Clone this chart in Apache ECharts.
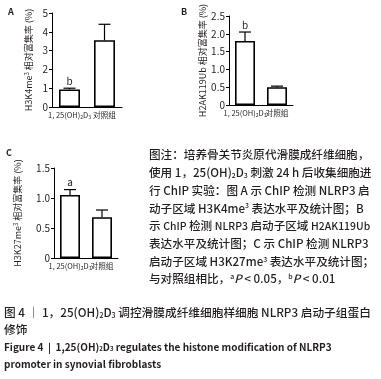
<!DOCTYPE html>
<html>
<head>
<meta charset="utf-8">
<script src="https://cdn.jsdelivr.net/npm/echarts@6/dist/echarts.min.js"></script>
<style>
  html, body { margin: 0; padding: 0; background: #fff; }
  #main { width: 381px; height: 379px; }
</style>
</head>
<body>
<div id="main"></div>
<script>
// groups and values
const groups = ['{g|1, 25(OH)}{s|2}{g|D}{s|3}', '对照组'];

const h3k4Mean = [0.93, 3.55];
const h3k4Err = [0.07, 0.85];
const h3k4Sig = ['b', ''];

const h2akMean = [1.8, 0.5];
const h2akErr = [0.25, 0.03];
const h2akSig = ['b', ''];

const h3k27Mean = [1.05, 0.68];
const h3k27Err = [0.09, 0.12];
const h3k27Sig = ['a', ''];

const yMaxA = 5, yStepA = 1;
const yMaxB = 2.5, yStepB = 0.5;
const yMaxC = 1.5, yStepC = 0.5;

const FONT = 'Noto Sans CJK SC';
const INK = '#231f20';

const richSmall = {
    g: {fontSize: 7.5, fontFamily: FONT, color: INK},
    s: {fontSize: 5, fontFamily: FONT, color: INK, verticalAlign: 'bottom', padding: [4, 0, 0, 0]},
    p: {fontSize: 6, fontFamily: FONT, color: INK, verticalAlign: 'top', padding: [0, 0, 4, 0]}
};

function xAx(gi) {
    return {
        type: 'category', gridIndex: gi, data: groups,
        axisLine: {lineStyle: {color: '#000', width: 1}},
        axisTick: {show: false},
        axisLabel: {interval: 0, fontSize: 7.7, color: INK, margin: 4, fontFamily: FONT, rich: richSmall}
    };
}

function yAx(gi, max, step, name, gap) {
    return {
        type: 'value', gridIndex: gi, min: 0, max: max, interval: step,
        name: name, nameLocation: 'middle', nameRotate: 90, nameGap: gap,
        nameTextStyle: {fontSize: 9, color: INK, fontFamily: FONT, rich: richSmall},
        axisLine: {show: true, lineStyle: {color: '#000', width: 1}},
        axisTick: {show: true, length: 3, lineStyle: {color: '#000'}},
        splitLine: {show: false},
        axisLabel: {
            fontSize: 10, color: INK, margin: 4, fontFamily: FONT,
            formatter: v => (v === 0 || step === 1) ? String(v) : v.toFixed(1)
        }
    };
}

function barSeries(gi, mean, w) {
    return {
        type: 'bar', xAxisIndex: gi, yAxisIndex: gi, data: mean, barWidth: w, silent: true,
        itemStyle: {color: '#fff', borderColor: '#000', borderWidth: 1.6}
    };
}

function errSeries(gi, mean, err, sig) {
    return {
        type: 'custom', xAxisIndex: gi, yAxisIndex: gi, silent: true, z: 5,
        data: mean.map((m, i) => [i, m, err[i]]),
        renderItem: function (params, api) {
            const i = api.value(0);
            const p0 = api.coord([i, api.value(1)]);
            const p1 = api.coord([i, api.value(1) + api.value(2)]);
            const hw = 6;
            return {
                type: 'group',
                children: [
                    {type: 'line', shape: {x1: p0[0], y1: p0[1], x2: p0[0], y2: p1[1]}, style: {stroke: '#000', lineWidth: 1.2}},
                    {type: 'line', shape: {x1: p0[0] - hw, y1: p1[1], x2: p0[0] + hw, y2: p1[1]}, style: {stroke: '#000', lineWidth: 1.2}},
                    {type: 'text', style: {text: sig[i], x: p0[0], y: p1[1] - 2, align: 'center', verticalAlign: 'bottom',
                        fontSize: 10, fontFamily: FONT, fill: INK}}
                ]
            };
        }
    };
}

function txt(x, y, text, size, weight) {
    return {
        type: 'text', x: x, y: y, silent: true,
        style: {
            text: text, fontSize: size, fontWeight: weight || 'normal', fontFamily: FONT, fill: INK,
            verticalAlign: 'middle',
            rich: {
                sub: {fontSize: size * 0.6, fontFamily: FONT, fill: INK, fontWeight: weight || 'normal', verticalAlign: 'bottom'},
                sup: {fontSize: size * 0.6, fontFamily: FONT, fill: INK, fontWeight: weight || 'normal', verticalAlign: 'top'},
                it: {fontSize: size, fontFamily: FONT, fill: INK, fontWeight: weight || 'normal', fontStyle: 'italic'},
                n: {fontSize: size * 0.9, fontFamily: FONT, fill: INK, fontWeight: weight || 'normal'}
            }
        }
    };
}

const noteLines = [
    '图注：培养骨关节炎原代滑膜成纤维细胞，',
    '使用 1，25(OH){sub|2}D{sub|3} 刺激 24 h 后收集细胞进',
    '行 ChIP 实验：图 A 示 ChIP 检测 NLRP3 启',
    '动子区域 H3K4me{sup|3} 表达水平及统计图；B',
    '示 {n|ChIP} 检测 {n|NLRP3} 启动子区域 {n|H2AK119Ub}',
    '表达水平及统计图；C 示 ChIP 检测 NLRP3',
    '启动子区域 H3K27me{sup|3} 表达水平及统计图；',
    '与对照组相比，{sup|a}{it|P} < 0.05，{sup|b}{it|P} < 0.01'
];

const graphics = [
    txt(8, 12, 'A', 9, 'bold'),
    txt(181, 12, 'B', 9, 'bold'),
    txt(6, 153, 'C', 9, 'bold')
];
noteLines.forEach((t, k) => graphics.push(txt(149, 155 + k * 17.7, t, 11.6, 500)));
graphics.push(txt(4, 313, '图 4 ｜ 1，25(OH){sub|2}D{sub|3} 调控滑膜成纤维细胞样细胞 NLRP3 启动子组蛋白', 11.7, 500));
graphics.push(txt(4, 330, '修饰', 11.7, 500));
graphics.push(txt(4, 347, 'Figure 4  |  1,25(OH){sub|2}D{sub|3} regulates the histone modification of NLRP3', 10, 'bold'));
graphics.push(txt(4, 364, 'promoter in synovial fibroblasts', 10, 'bold'));

const chart = echarts.init(document.getElementById('main'));
chart.setOption({
    animation: false,
    backgroundColor: '#fff',
    grid: [
        {left: 52, top: 13, width: 70, height: 94},
        {left: 229, top: 16, width: 64, height: 89},
        {left: 54, top: 168, width: 64, height: 90}
    ],
    xAxis: [xAx(0), xAx(1), xAx(2)],
    yAxis: [
        yAx(0, yMaxA, yStepA, 'H3K4me{p|3} 相对富集率 (%)', 18),
        yAx(1, yMaxB, yStepB, 'H2AK119Ub 相对富集率 (%)', 22),
        yAx(2, yMaxC, yStepC, 'H3K27me{p|3} 相对富集率 (%)', 31)
    ],
    series: [
        barSeries(0, h3k4Mean, 21), errSeries(0, h3k4Mean, h3k4Err, h3k4Sig),
        barSeries(1, h2akMean, 20), errSeries(1, h2akMean, h2akErr, h2akSig),
        barSeries(2, h3k27Mean, 20), errSeries(2, h3k27Mean, h3k27Err, h3k27Sig)
    ],
    graphic: graphics
});
</script>
</body>
</html>
